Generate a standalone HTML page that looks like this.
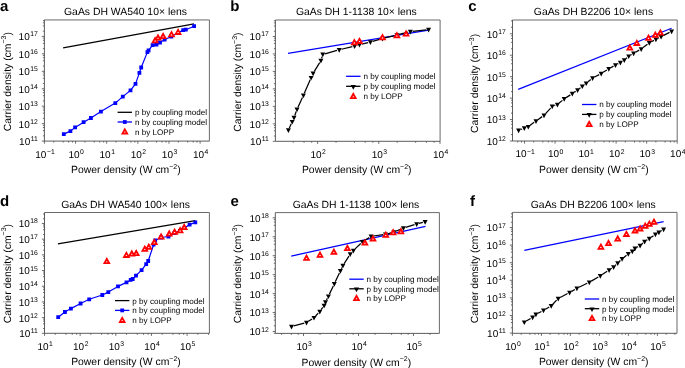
<!DOCTYPE html><html><head><meta charset="utf-8"><style>html,body{margin:0;padding:0;background:#fff;overflow:hidden}svg{display:block;filter:blur(0.3px)}text{font-family:"Liberation Sans",sans-serif;fill:#000;text-rendering:geometricPrecision}</style></head><body>
<svg width="685" height="368" viewBox="0 0 685 368">
<rect width="685" height="368" fill="#fff"/>
<path d="M44.4 19.95H209.4V141.1" fill="none" stroke="#5a5a5a" stroke-width="0.9"/>
<path d="M44.4 141.1v2.6M53.77 141.1v1.5M63.15 141.1v1.5M68.63 141.1v1.5M72.52 141.1v1.5M75.54 141.1v2.6M84.91 141.1v1.5M94.29 141.1v1.5M99.77 141.1v1.5M103.66 141.1v1.5M106.68 141.1v2.6M116.05 141.1v1.5M125.43 141.1v1.5M130.91 141.1v1.5M134.8 141.1v1.5M137.82 141.1v2.6M147.19 141.1v1.5M156.57 141.1v1.5M162.05 141.1v1.5M165.94 141.1v1.5M168.96 141.1v2.6M178.33 141.1v1.5M187.71 141.1v1.5M193.19 141.1v1.5M197.08 141.1v1.5M200.1 141.1v2.6M44.4 141.1h-2.6M44.4 135.85h-1.5M44.4 130.59h-1.5M44.4 127.52h-1.5M44.4 125.34h-1.5M44.4 123.65h-2.6M44.4 118.4h-1.5M44.4 113.14h-1.5M44.4 110.07h-1.5M44.4 107.89h-1.5M44.4 106.2h-2.6M44.4 100.95h-1.5M44.4 95.69h-1.5M44.4 92.62h-1.5M44.4 90.44h-1.5M44.4 88.75h-2.6M44.4 83.5h-1.5M44.4 78.24h-1.5M44.4 75.17h-1.5M44.4 72.99h-1.5M44.4 71.3h-2.6M44.4 66.05h-1.5M44.4 60.79h-1.5M44.4 57.72h-1.5M44.4 55.54h-1.5M44.4 53.85h-2.6M44.4 48.6h-1.5M44.4 43.34h-1.5M44.4 40.27h-1.5M44.4 38.09h-1.5M44.4 36.4h-2.6M44.4 31.15h-1.5M44.4 25.89h-1.5M44.4 22.82h-1.5M44.4 20.64h-1.5" stroke="#4a4a4a" stroke-width="0.8" fill="none"/>
<path d="M44.4 19.95V141.1H209.4" fill="none" stroke="#4a4a4a" stroke-width="0.9"/>
<text x="37.8" y="145" text-anchor="end" font-size="10.0">10<tspan font-size="6.8" dx="0.5" dy="-3.9">11</tspan></text>
<text x="37.8" y="127.55" text-anchor="end" font-size="10.0">10<tspan font-size="6.8" dx="0.5" dy="-3.9">12</tspan></text>
<text x="37.8" y="110.1" text-anchor="end" font-size="10.0">10<tspan font-size="6.8" dx="0.5" dy="-3.9">13</tspan></text>
<text x="37.8" y="92.65" text-anchor="end" font-size="10.0">10<tspan font-size="6.8" dx="0.5" dy="-3.9">14</tspan></text>
<text x="37.8" y="75.2" text-anchor="end" font-size="10.0">10<tspan font-size="6.8" dx="0.5" dy="-3.9">15</tspan></text>
<text x="37.8" y="57.75" text-anchor="end" font-size="10.0">10<tspan font-size="6.8" dx="0.5" dy="-3.9">16</tspan></text>
<text x="37.8" y="40.3" text-anchor="end" font-size="10.0">10<tspan font-size="6.8" dx="0.5" dy="-3.9">17</tspan></text>
<text x="45" y="157.5" text-anchor="middle" font-size="10.0">10<tspan font-size="6.8" dx="0.5" dy="-3.9">−1</tspan></text>
<text x="76.14" y="157.5" text-anchor="middle" font-size="10.0">10<tspan font-size="6.8" dx="0.5" dy="-3.9">0</tspan></text>
<text x="107.28" y="157.5" text-anchor="middle" font-size="10.0">10<tspan font-size="6.8" dx="0.5" dy="-3.9">1</tspan></text>
<text x="138.42" y="157.5" text-anchor="middle" font-size="10.0">10<tspan font-size="6.8" dx="0.5" dy="-3.9">2</tspan></text>
<text x="169.56" y="157.5" text-anchor="middle" font-size="10.0">10<tspan font-size="6.8" dx="0.5" dy="-3.9">3</tspan></text>
<text x="200.7" y="157.5" text-anchor="middle" font-size="10.0">10<tspan font-size="6.8" dx="0.5" dy="-3.9">4</tspan></text>
<text x="125.5" y="15.35" text-anchor="middle" font-size="10.4">GaAs DH WA540 10× lens</text>
<text x="125.9" y="173.2" text-anchor="middle" font-size="10.4">Power density (W cm<tspan font-size="7.0" dy="-4.2">−2</tspan><tspan dy="4.2">)</tspan></text>
<text transform="translate(10.5 81.7) rotate(-90)" x="0" y="0" text-anchor="middle" font-size="10.4">Carrier density (cm<tspan font-size="7.0" dy="-4.2">−3</tspan><tspan dy="4.2">)</tspan></text>
<text x="0.1" y="10.8" font-size="15" font-weight="bold">a</text>
<path d="M275.4 20H440.1V141.3" fill="none" stroke="#5a5a5a" stroke-width="0.9"/>
<path d="M293.25 141.3v1.5M304.02 141.3v1.5M311.67 141.3v1.5M317.6 141.3v2.6M336.02 141.3v1.5M354.45 141.3v1.5M365.22 141.3v1.5M372.87 141.3v1.5M378.8 141.3v2.6M397.22 141.3v1.5M415.65 141.3v1.5M426.42 141.3v1.5M434.07 141.3v1.5M440 141.3v2.6M275.4 141.3h-2.6M275.4 136.04h-1.5M275.4 130.78h-1.5M275.4 127.71h-1.5M275.4 125.52h-1.5M275.4 123.83h-2.6M275.4 118.57h-1.5M275.4 113.31h-1.5M275.4 110.24h-1.5M275.4 108.05h-1.5M275.4 106.36h-2.6M275.4 101.1h-1.5M275.4 95.84h-1.5M275.4 92.77h-1.5M275.4 90.58h-1.5M275.4 88.89h-2.6M275.4 83.63h-1.5M275.4 78.37h-1.5M275.4 75.3h-1.5M275.4 73.11h-1.5M275.4 71.42h-2.6M275.4 66.16h-1.5M275.4 60.9h-1.5M275.4 57.83h-1.5M275.4 55.64h-1.5M275.4 53.95h-2.6M275.4 48.69h-1.5M275.4 43.43h-1.5M275.4 40.36h-1.5M275.4 38.17h-1.5M275.4 36.48h-2.6M275.4 31.22h-1.5M275.4 25.96h-1.5M275.4 22.89h-1.5M275.4 20.7h-1.5" stroke="#4a4a4a" stroke-width="0.8" fill="none"/>
<path d="M275.4 20V141.3H440.1" fill="none" stroke="#4a4a4a" stroke-width="0.9"/>
<text x="268.8" y="145.2" text-anchor="end" font-size="10.0">10<tspan font-size="6.8" dx="0.5" dy="-3.9">11</tspan></text>
<text x="268.8" y="127.73" text-anchor="end" font-size="10.0">10<tspan font-size="6.8" dx="0.5" dy="-3.9">12</tspan></text>
<text x="268.8" y="110.26" text-anchor="end" font-size="10.0">10<tspan font-size="6.8" dx="0.5" dy="-3.9">13</tspan></text>
<text x="268.8" y="92.79" text-anchor="end" font-size="10.0">10<tspan font-size="6.8" dx="0.5" dy="-3.9">14</tspan></text>
<text x="268.8" y="75.32" text-anchor="end" font-size="10.0">10<tspan font-size="6.8" dx="0.5" dy="-3.9">15</tspan></text>
<text x="268.8" y="57.85" text-anchor="end" font-size="10.0">10<tspan font-size="6.8" dx="0.5" dy="-3.9">16</tspan></text>
<text x="268.8" y="40.38" text-anchor="end" font-size="10.0">10<tspan font-size="6.8" dx="0.5" dy="-3.9">17</tspan></text>
<text x="318.2" y="157.7" text-anchor="middle" font-size="10.0">10<tspan font-size="6.8" dx="0.5" dy="-3.9">2</tspan></text>
<text x="379.4" y="157.7" text-anchor="middle" font-size="10.0">10<tspan font-size="6.8" dx="0.5" dy="-3.9">3</tspan></text>
<text x="440.6" y="157.7" text-anchor="middle" font-size="10.0">10<tspan font-size="6.8" dx="0.5" dy="-3.9">4</tspan></text>
<text x="356.35" y="15.4" text-anchor="middle" font-size="10.4">GaAs DH 1-1138 10× lens</text>
<text x="356.75" y="173.4" text-anchor="middle" font-size="10.4">Power density (W cm<tspan font-size="7.0" dy="-4.2">−2</tspan><tspan dy="4.2">)</tspan></text>
<text transform="translate(241.2 82.1) rotate(-90)" x="0" y="0" text-anchor="middle" font-size="10.4">Carrier density (cm<tspan font-size="7.0" dy="-4.2">−3</tspan><tspan dy="4.2">)</tspan></text>
<text x="230.2" y="10.8" font-size="15" font-weight="bold">b</text>
<path d="M512.5 20H677.2V141" fill="none" stroke="#5a5a5a" stroke-width="0.9"/>
<path d="M517.72 141v1.5M521.54 141v1.5M524.5 141v2.6M533.69 141v1.5M542.89 141v1.5M548.26 141v1.5M552.08 141v1.5M555.04 141v2.6M564.23 141v1.5M573.43 141v1.5M578.8 141v1.5M582.62 141v1.5M585.58 141v2.6M594.77 141v1.5M603.97 141v1.5M609.34 141v1.5M613.16 141v1.5M616.12 141v2.6M625.31 141v1.5M634.51 141v1.5M639.88 141v1.5M643.7 141v1.5M646.66 141v2.6M655.85 141v1.5M665.05 141v1.5M670.42 141v1.5M674.24 141v1.5M677.2 141v2.6M512.5 141h-2.6M512.5 134.54h-1.5M512.5 128.09h-1.5M512.5 124.31h-1.5M512.5 121.63h-1.5M512.5 119.55h-2.6M512.5 113.09h-1.5M512.5 106.64h-1.5M512.5 102.86h-1.5M512.5 100.18h-1.5M512.5 98.1h-2.6M512.5 91.64h-1.5M512.5 85.19h-1.5M512.5 81.41h-1.5M512.5 78.73h-1.5M512.5 76.65h-2.6M512.5 70.19h-1.5M512.5 63.74h-1.5M512.5 59.96h-1.5M512.5 57.28h-1.5M512.5 55.2h-2.6M512.5 48.74h-1.5M512.5 42.29h-1.5M512.5 38.51h-1.5M512.5 35.83h-1.5M512.5 33.75h-2.6M512.5 27.29h-1.5M512.5 20.84h-1.5" stroke="#4a4a4a" stroke-width="0.8" fill="none"/>
<path d="M512.5 20V141H677.2" fill="none" stroke="#4a4a4a" stroke-width="0.9"/>
<text x="505.9" y="144.9" text-anchor="end" font-size="10.0">10<tspan font-size="6.8" dx="0.5" dy="-3.9">12</tspan></text>
<text x="505.9" y="123.45" text-anchor="end" font-size="10.0">10<tspan font-size="6.8" dx="0.5" dy="-3.9">13</tspan></text>
<text x="505.9" y="102" text-anchor="end" font-size="10.0">10<tspan font-size="6.8" dx="0.5" dy="-3.9">14</tspan></text>
<text x="505.9" y="80.55" text-anchor="end" font-size="10.0">10<tspan font-size="6.8" dx="0.5" dy="-3.9">15</tspan></text>
<text x="505.9" y="59.1" text-anchor="end" font-size="10.0">10<tspan font-size="6.8" dx="0.5" dy="-3.9">16</tspan></text>
<text x="505.9" y="37.65" text-anchor="end" font-size="10.0">10<tspan font-size="6.8" dx="0.5" dy="-3.9">17</tspan></text>
<text x="525.1" y="157.4" text-anchor="middle" font-size="10.0">10<tspan font-size="6.8" dx="0.5" dy="-3.9">−1</tspan></text>
<text x="555.64" y="157.4" text-anchor="middle" font-size="10.0">10<tspan font-size="6.8" dx="0.5" dy="-3.9">0</tspan></text>
<text x="586.18" y="157.4" text-anchor="middle" font-size="10.0">10<tspan font-size="6.8" dx="0.5" dy="-3.9">1</tspan></text>
<text x="616.72" y="157.4" text-anchor="middle" font-size="10.0">10<tspan font-size="6.8" dx="0.5" dy="-3.9">2</tspan></text>
<text x="647.26" y="157.4" text-anchor="middle" font-size="10.0">10<tspan font-size="6.8" dx="0.5" dy="-3.9">3</tspan></text>
<text x="677.8" y="157.4" text-anchor="middle" font-size="10.0">10<tspan font-size="6.8" dx="0.5" dy="-3.9">4</tspan></text>
<text x="593.45" y="15.4" text-anchor="middle" font-size="10.4">GaAs DH B2206 10× lens</text>
<text x="593.85" y="173.1" text-anchor="middle" font-size="10.4">Power density (W cm<tspan font-size="7.0" dy="-4.2">−2</tspan><tspan dy="4.2">)</tspan></text>
<text transform="translate(477.7 83.4) rotate(-90)" x="0" y="0" text-anchor="middle" font-size="10.4">Carrier density (cm<tspan font-size="7.0" dy="-4.2">−3</tspan><tspan dy="4.2">)</tspan></text>
<text x="468.3" y="10.8" font-size="15" font-weight="bold">c</text>
<path d="M44.5 212.5H209.4V333.3" fill="none" stroke="#5a5a5a" stroke-width="0.9"/>
<path d="M44.5 333.3v2.6M55.23 333.3v1.5M65.96 333.3v1.5M72.24 333.3v1.5M76.7 333.3v1.5M80.15 333.3v2.6M90.88 333.3v1.5M101.61 333.3v1.5M107.89 333.3v1.5M112.35 333.3v1.5M115.8 333.3v2.6M126.53 333.3v1.5M137.26 333.3v1.5M143.54 333.3v1.5M148 333.3v1.5M151.45 333.3v2.6M162.18 333.3v1.5M172.91 333.3v1.5M179.19 333.3v1.5M183.65 333.3v1.5M187.1 333.3v2.6M197.83 333.3v1.5M208.56 333.3v1.5M44.5 333.3h-2.6M44.5 328.58h-1.5M44.5 323.85h-1.5M44.5 321.09h-1.5M44.5 319.13h-1.5M44.5 317.61h-2.6M44.5 312.89h-1.5M44.5 308.16h-1.5M44.5 305.4h-1.5M44.5 303.44h-1.5M44.5 301.92h-2.6M44.5 297.2h-1.5M44.5 292.47h-1.5M44.5 289.71h-1.5M44.5 287.75h-1.5M44.5 286.23h-2.6M44.5 281.51h-1.5M44.5 276.78h-1.5M44.5 274.02h-1.5M44.5 272.06h-1.5M44.5 270.54h-2.6M44.5 265.82h-1.5M44.5 261.09h-1.5M44.5 258.33h-1.5M44.5 256.37h-1.5M44.5 254.85h-2.6M44.5 250.13h-1.5M44.5 245.4h-1.5M44.5 242.64h-1.5M44.5 240.68h-1.5M44.5 239.16h-2.6M44.5 234.44h-1.5M44.5 229.71h-1.5M44.5 226.95h-1.5M44.5 224.99h-1.5M44.5 223.47h-2.6M44.5 218.75h-1.5M44.5 214.02h-1.5" stroke="#4a4a4a" stroke-width="0.8" fill="none"/>
<path d="M44.5 212.5V333.3H209.4" fill="none" stroke="#4a4a4a" stroke-width="0.9"/>
<text x="37.9" y="337.2" text-anchor="end" font-size="10.0">10<tspan font-size="6.8" dx="0.5" dy="-3.9">11</tspan></text>
<text x="37.9" y="321.51" text-anchor="end" font-size="10.0">10<tspan font-size="6.8" dx="0.5" dy="-3.9">12</tspan></text>
<text x="37.9" y="305.82" text-anchor="end" font-size="10.0">10<tspan font-size="6.8" dx="0.5" dy="-3.9">13</tspan></text>
<text x="37.9" y="290.13" text-anchor="end" font-size="10.0">10<tspan font-size="6.8" dx="0.5" dy="-3.9">14</tspan></text>
<text x="37.9" y="274.44" text-anchor="end" font-size="10.0">10<tspan font-size="6.8" dx="0.5" dy="-3.9">15</tspan></text>
<text x="37.9" y="258.75" text-anchor="end" font-size="10.0">10<tspan font-size="6.8" dx="0.5" dy="-3.9">16</tspan></text>
<text x="37.9" y="243.06" text-anchor="end" font-size="10.0">10<tspan font-size="6.8" dx="0.5" dy="-3.9">17</tspan></text>
<text x="37.9" y="227.37" text-anchor="end" font-size="10.0">10<tspan font-size="6.8" dx="0.5" dy="-3.9">18</tspan></text>
<text x="45.1" y="349.7" text-anchor="middle" font-size="10.0">10<tspan font-size="6.8" dx="0.5" dy="-3.9">1</tspan></text>
<text x="80.75" y="349.7" text-anchor="middle" font-size="10.0">10<tspan font-size="6.8" dx="0.5" dy="-3.9">2</tspan></text>
<text x="116.4" y="349.7" text-anchor="middle" font-size="10.0">10<tspan font-size="6.8" dx="0.5" dy="-3.9">3</tspan></text>
<text x="152.05" y="349.7" text-anchor="middle" font-size="10.0">10<tspan font-size="6.8" dx="0.5" dy="-3.9">4</tspan></text>
<text x="187.7" y="349.7" text-anchor="middle" font-size="10.0">10<tspan font-size="6.8" dx="0.5" dy="-3.9">5</tspan></text>
<text x="125.55" y="207.9" text-anchor="middle" font-size="10.4">GaAs DH WA540 100× lens</text>
<text x="125.95" y="365.4" text-anchor="middle" font-size="10.4">Power density (W cm<tspan font-size="7.0" dy="-4.2">−2</tspan><tspan dy="4.2">)</tspan></text>
<text transform="translate(10.5 273.55) rotate(-90)" x="0" y="0" text-anchor="middle" font-size="10.4">Carrier density (cm<tspan font-size="7.0" dy="-4.2">−3</tspan><tspan dy="4.2">)</tspan></text>
<text x="0" y="205.8" font-size="15" font-weight="bold">d</text>
<path d="M275.3 212.6H439.4V333.4" fill="none" stroke="#5a5a5a" stroke-width="0.9"/>
<path d="M281.61 333.4v1.5M291.3 333.4v1.5M298.17 333.4v1.5M303.5 333.4v2.6M320.06 333.4v1.5M336.61 333.4v1.5M346.3 333.4v1.5M353.17 333.4v1.5M358.5 333.4v2.6M375.06 333.4v1.5M391.61 333.4v1.5M401.3 333.4v1.5M408.17 333.4v1.5M413.5 333.4v2.6M430.06 333.4v1.5M275.3 333.34h-1.5M275.3 331.5h-2.6M275.3 325.8h-1.5M275.3 320.09h-1.5M275.3 316.75h-1.5M275.3 314.39h-1.5M275.3 312.55h-2.6M275.3 306.85h-1.5M275.3 301.14h-1.5M275.3 297.8h-1.5M275.3 295.44h-1.5M275.3 293.6h-2.6M275.3 287.9h-1.5M275.3 282.19h-1.5M275.3 278.85h-1.5M275.3 276.49h-1.5M275.3 274.65h-2.6M275.3 268.95h-1.5M275.3 263.24h-1.5M275.3 259.9h-1.5M275.3 257.54h-1.5M275.3 255.7h-2.6M275.3 250h-1.5M275.3 244.29h-1.5M275.3 240.95h-1.5M275.3 238.59h-1.5M275.3 236.75h-2.6M275.3 231.05h-1.5M275.3 225.34h-1.5M275.3 222h-1.5M275.3 219.64h-1.5M275.3 217.8h-2.6" stroke="#4a4a4a" stroke-width="0.8" fill="none"/>
<path d="M275.3 212.6V333.4H439.4" fill="none" stroke="#4a4a4a" stroke-width="0.9"/>
<text x="268.7" y="335.4" text-anchor="end" font-size="10.0">10<tspan font-size="6.8" dx="0.5" dy="-3.9">12</tspan></text>
<text x="268.7" y="316.45" text-anchor="end" font-size="10.0">10<tspan font-size="6.8" dx="0.5" dy="-3.9">13</tspan></text>
<text x="268.7" y="297.5" text-anchor="end" font-size="10.0">10<tspan font-size="6.8" dx="0.5" dy="-3.9">14</tspan></text>
<text x="268.7" y="278.55" text-anchor="end" font-size="10.0">10<tspan font-size="6.8" dx="0.5" dy="-3.9">15</tspan></text>
<text x="268.7" y="259.6" text-anchor="end" font-size="10.0">10<tspan font-size="6.8" dx="0.5" dy="-3.9">16</tspan></text>
<text x="268.7" y="240.65" text-anchor="end" font-size="10.0">10<tspan font-size="6.8" dx="0.5" dy="-3.9">17</tspan></text>
<text x="268.7" y="221.7" text-anchor="end" font-size="10.0">10<tspan font-size="6.8" dx="0.5" dy="-3.9">18</tspan></text>
<text x="304.1" y="349.8" text-anchor="middle" font-size="10.0">10<tspan font-size="6.8" dx="0.5" dy="-3.9">3</tspan></text>
<text x="359.1" y="349.8" text-anchor="middle" font-size="10.0">10<tspan font-size="6.8" dx="0.5" dy="-3.9">4</tspan></text>
<text x="414.1" y="349.8" text-anchor="middle" font-size="10.0">10<tspan font-size="6.8" dx="0.5" dy="-3.9">5</tspan></text>
<text x="355.95" y="208" text-anchor="middle" font-size="10.4">GaAs DH 1-1138 100× lens</text>
<text x="356.35" y="365.5" text-anchor="middle" font-size="10.4">Power density (W cm<tspan font-size="7.0" dy="-4.2">−2</tspan><tspan dy="4.2">)</tspan></text>
<text transform="translate(241.2 273.75) rotate(-90)" x="0" y="0" text-anchor="middle" font-size="10.4">Carrier density (cm<tspan font-size="7.0" dy="-4.2">−3</tspan><tspan dy="4.2">)</tspan></text>
<text x="230.6" y="205.8" font-size="15" font-weight="bold">e</text>
<path d="M512.4 212.4H677V333.3" fill="none" stroke="#5a5a5a" stroke-width="0.9"/>
<path d="M512.4 333.3v2.6M521.13 333.3v1.5M529.86 333.3v1.5M534.97 333.3v1.5M538.59 333.3v1.5M541.4 333.3v2.6M550.13 333.3v1.5M558.86 333.3v1.5M563.97 333.3v1.5M567.59 333.3v1.5M570.4 333.3v2.6M579.13 333.3v1.5M587.86 333.3v1.5M592.97 333.3v1.5M596.59 333.3v1.5M599.4 333.3v2.6M608.13 333.3v1.5M616.86 333.3v1.5M621.97 333.3v1.5M625.59 333.3v1.5M628.4 333.3v2.6M637.13 333.3v1.5M645.86 333.3v1.5M650.97 333.3v1.5M654.59 333.3v1.5M657.4 333.3v2.6M666.13 333.3v1.5M674.86 333.3v1.5M512.4 333.1h-2.6M512.4 327.8h-1.5M512.4 322.5h-1.5M512.4 319.4h-1.5M512.4 317.21h-1.5M512.4 315.5h-2.6M512.4 310.2h-1.5M512.4 304.9h-1.5M512.4 301.8h-1.5M512.4 299.61h-1.5M512.4 297.9h-2.6M512.4 292.6h-1.5M512.4 287.3h-1.5M512.4 284.2h-1.5M512.4 282.01h-1.5M512.4 280.3h-2.6M512.4 275h-1.5M512.4 269.7h-1.5M512.4 266.6h-1.5M512.4 264.41h-1.5M512.4 262.7h-2.6M512.4 257.4h-1.5M512.4 252.1h-1.5M512.4 249h-1.5M512.4 246.81h-1.5M512.4 245.1h-2.6M512.4 239.8h-1.5M512.4 234.5h-1.5M512.4 231.4h-1.5M512.4 229.21h-1.5M512.4 227.5h-2.6M512.4 222.2h-1.5M512.4 216.9h-1.5M512.4 213.8h-1.5" stroke="#4a4a4a" stroke-width="0.8" fill="none"/>
<path d="M512.4 212.4V333.3H677" fill="none" stroke="#4a4a4a" stroke-width="0.9"/>
<text x="505.8" y="337" text-anchor="end" font-size="10.0">10<tspan font-size="6.8" dx="0.5" dy="-3.9">11</tspan></text>
<text x="505.8" y="319.4" text-anchor="end" font-size="10.0">10<tspan font-size="6.8" dx="0.5" dy="-3.9">12</tspan></text>
<text x="505.8" y="301.8" text-anchor="end" font-size="10.0">10<tspan font-size="6.8" dx="0.5" dy="-3.9">13</tspan></text>
<text x="505.8" y="284.2" text-anchor="end" font-size="10.0">10<tspan font-size="6.8" dx="0.5" dy="-3.9">14</tspan></text>
<text x="505.8" y="266.6" text-anchor="end" font-size="10.0">10<tspan font-size="6.8" dx="0.5" dy="-3.9">15</tspan></text>
<text x="505.8" y="249" text-anchor="end" font-size="10.0">10<tspan font-size="6.8" dx="0.5" dy="-3.9">16</tspan></text>
<text x="505.8" y="231.4" text-anchor="end" font-size="10.0">10<tspan font-size="6.8" dx="0.5" dy="-3.9">17</tspan></text>
<text x="513" y="349.7" text-anchor="middle" font-size="10.0">10<tspan font-size="6.8" dx="0.5" dy="-3.9">0</tspan></text>
<text x="542" y="349.7" text-anchor="middle" font-size="10.0">10<tspan font-size="6.8" dx="0.5" dy="-3.9">1</tspan></text>
<text x="571" y="349.7" text-anchor="middle" font-size="10.0">10<tspan font-size="6.8" dx="0.5" dy="-3.9">2</tspan></text>
<text x="600" y="349.7" text-anchor="middle" font-size="10.0">10<tspan font-size="6.8" dx="0.5" dy="-3.9">3</tspan></text>
<text x="629" y="349.7" text-anchor="middle" font-size="10.0">10<tspan font-size="6.8" dx="0.5" dy="-3.9">4</tspan></text>
<text x="658" y="349.7" text-anchor="middle" font-size="10.0">10<tspan font-size="6.8" dx="0.5" dy="-3.9">5</tspan></text>
<text x="593.3" y="207.8" text-anchor="middle" font-size="10.4">GaAs DH B2206 100× lens</text>
<text x="593.7" y="365.4" text-anchor="middle" font-size="10.4">Power density (W cm<tspan font-size="7.0" dy="-4.2">−2</tspan><tspan dy="4.2">)</tspan></text>
<text transform="translate(477.7 273.75) rotate(-90)" x="0" y="0" text-anchor="middle" font-size="10.4">Carrier density (cm<tspan font-size="7.0" dy="-4.2">−3</tspan><tspan dy="4.2">)</tspan></text>
<text x="469.9" y="205.8" font-size="15" font-weight="bold">f</text>
<polyline points="63.1,47.8 194,23.8" fill="none" stroke="#000" stroke-width="1.2" stroke-linejoin="round"/>
<polyline points="63.8,134.1 70.4,131.1 75.1,127.4 83.6,122.2 90.9,118 100.9,111.6 115.3,103.1 122.8,96.6 130.5,90.4 135.5,83.9 139.4,72.9 141.2,67.5 147.4,52.1 148.6,50.3 152.6,45.2 156.5,44.6 160,42.5 164.6,39.7 171.3,36.5 183.2,30.1 185.8,29.7 194.1,26.2" fill="none" stroke="#0000ff" stroke-width="1.2" stroke-linejoin="round"/>
<path d="M61.9 132.2h3.8v3.8h-3.8zM68.5 129.2h3.8v3.8h-3.8zM73.2 125.5h3.8v3.8h-3.8zM81.7 120.3h3.8v3.8h-3.8zM89 116.1h3.8v3.8h-3.8zM99 109.7h3.8v3.8h-3.8zM113.4 101.2h3.8v3.8h-3.8zM120.9 94.7h3.8v3.8h-3.8zM128.6 88.5h3.8v3.8h-3.8zM133.6 82h3.8v3.8h-3.8zM137.5 71h3.8v3.8h-3.8zM139.3 65.6h3.8v3.8h-3.8zM145.5 50.2h3.8v3.8h-3.8zM146.7 48.4h3.8v3.8h-3.8zM150.7 43.3h3.8v3.8h-3.8zM154.6 42.7h3.8v3.8h-3.8zM158.1 40.6h3.8v3.8h-3.8zM162.7 37.8h3.8v3.8h-3.8zM169.4 34.6h3.8v3.8h-3.8zM181.3 28.2h3.8v3.8h-3.8zM183.9 27.8h3.8v3.8h-3.8zM192.2 24.3h3.8v3.8h-3.8z" fill="#0000ff"/>
<path d="M155.1 36.2L159 43.2H151.2zM158 33.5L161.9 40.5H154.1zM163.1 32L167 39H159.2zM171.5 30.2L175.4 37.2H167.6zM178.1 27.9L182 34.9H174.2z" fill="#ff0000"/>
<path d="M155.1 40.1L156.05 41.4H154.15zM158 37.4L158.95 38.7H157.05zM163.1 35.9L164.05 37.2H162.15zM171.5 34.1L172.45 35.4H170.55zM178.1 31.8L179.05 33.1H177.15z" fill="#fff"/>
<path d="M117.6 112.3h14.4" stroke="#000" stroke-width="1.3"/>
<text x="134.9" y="115.2" font-size="8.15">p by coupling model</text>
<path d="M117.6 122h14.4" stroke="#0000ff" stroke-width="1.3"/>
<path d="M122.9 120.1h3.8v3.8h-3.8z" fill="#0000ff"/>
<text x="134.9" y="124.9" font-size="8.15">n by coupling model</text>
<path d="M124.8 127.4L128.7 134.4H120.9z" fill="#ff0000"/>
<path d="M124.8 131.3L125.75 132.6H123.85z" fill="#fff"/>
<text x="134.9" y="134.6" font-size="8.15">n by LOPP</text>
<polyline points="288,53.4 428.6,30.2" fill="none" stroke="#0000ff" stroke-width="1.2" stroke-linejoin="round"/>
<path d="M289.35 128L291.25 123.8M294.79 115.44L296.21 111.56M297.96 107.31L302.44 97.49M304.32 93.29L310.18 79.81M314.3 71.44L319.7 62.56M321.57 58.4L322.13 56.6M325.01 53.78L336.99 50.42M341.43 49.25L352.37 46.55M356.81 45.37L357.29 45.23M361.74 44.09L368.16 42.61M372.6 41.44L380.3 39.16M384.73 37.96L394.67 35.54M399.13 34.44L408.17 32.16M412.68 31.34L426.32 29.76" fill="none" stroke="#000" stroke-width="1.25"/>
<path d="M285.9 128.3h5L288.4 133zM289.7 119.9h5L292.2 124.6zM291.5 115.8h5L294 120.5zM294.5 107.6h5L297 112.3zM300.9 93.6h5L303.4 98.3zM308.6 75.9h5L311.1 80.6zM310.6 71.6h5L313.1 76.3zM318.4 58.8h5L320.9 63.5zM320.3 52.6h5L322.8 57.3zM336.7 48h5L339.2 52.7zM352.1 44.2h5L354.6 48.9zM357 42.8h5L359.5 47.5zM367.9 40.3h5L370.4 45zM380 36.7h5L382.5 41.4zM394.4 33.2h5L396.9 37.9zM407.9 29.8h5L410.4 34.5zM426.1 27.7h5L428.6 32.4z" fill="#000"/>
<path d="M354.3 38.2L358.2 45.2H350.4zM359.5 36.9L363.4 43.9H355.6zM382.5 33.2L386.4 40.2H378.6zM396.9 31.2L400.8 38.2H393zM406.1 29.6L410 36.6H402.2z" fill="#ff0000"/>
<path d="M354.3 42.1L355.25 43.4H353.35zM359.5 40.8L360.45 42.1H358.55zM382.5 37.1L383.45 38.4H381.55zM396.9 35.1L397.85 36.4H395.95zM406.1 33.5L407.05 34.8H405.15z" fill="#fff"/>
<path d="M346.1 76.3h14.4" stroke="#0000ff" stroke-width="1.3"/>
<text x="363.4" y="79.2" font-size="8.15">n by coupling model</text>
<path d="M346.1 86.3h14.4" stroke="#000" stroke-width="1.3"/>
<path d="M350.7 85h5.2L353.3 89.7z" fill="#000"/>
<text x="363.4" y="89.2" font-size="8.15">p by coupling model</text>
<path d="M353.3 92L357.2 99H349.4z" fill="#ff0000"/>
<path d="M353.3 95.9L354.25 97.2H352.35z" fill="#fff"/>
<text x="363.4" y="99.2" font-size="8.15">n by LOPP</text>
<polyline points="518.2,89.4 671.6,28.3" fill="none" stroke="#0000ff" stroke-width="1.2" stroke-linejoin="round"/>
<path d="M520.73 129.54L522.17 128.96M530.15 125.33L534.15 122.37M537.87 119.67L542.13 116.63M545.56 113.61L550.64 108.09M554.36 105.61L555.24 105.29M559.18 103.04L562.42 100.36M566.12 97.64L570.38 94.86M574.22 92.33L575.68 91.37M579.37 88.63L580.53 87.67M584.12 84.8L584.38 84.6M588 81.77L590.8 79.53M594.63 77.02L599.17 74.58M603.17 72.31L606.83 70.09M610.79 67.74L613.51 66.16M617.57 63.99L618.33 63.61M626.02 58.57L626.98 57.73M630.68 55.03L631.62 54.47M635.6 52.17L639.2 50.13M643.04 47.62L647.46 44.28M651.32 41.8L653.88 40.4M657.96 38.27L659.04 37.73M663.15 35.65L669.55 32.35" fill="none" stroke="#000" stroke-width="1.25"/>
<path d="M516.1 128.6h5L518.6 133.3zM521.8 126.3h5L524.3 131zM525.8 124.9h5L528.3 129.6zM533.5 119.2h5L536 123.9zM541.5 113.5h5L544 118.2zM549.7 104.6h5L552.2 109.3zM554.9 102.7h5L557.4 107.4zM561.7 97.1h5L564.2 101.8zM569.8 91.8h5L572.3 96.5zM575.1 88.3h5L577.6 93zM579.8 84.4h5L582.3 89.1zM583.7 81.4h5L586.2 86.1zM590.1 76.3h5L592.6 81zM598.7 71.7h5L601.2 76.4zM606.3 67.1h5L608.8 71.8zM613 63.2h5L615.5 67.9zM617.9 60.8h5L620.4 65.5zM621.8 58.3h5L624.3 63zM626.2 54.4h5L628.7 59.1zM631.1 51.5h5L633.6 56.2zM638.7 47.2h5L641.2 51.9zM646.8 41.1h5L649.3 45.8zM653.4 37.5h5L655.9 42.2zM658.6 34.9h5L661.1 39.6zM669.1 29.5h5L671.6 34.2z" fill="#000"/>
<path d="M629.8 43.5L633.7 50.5H625.9zM636.8 38.9L640.7 45.9H632.9zM648.5 33.7L652.4 40.7H644.6zM655.3 30.8L659.2 37.8H651.4zM660.4 28.6L664.3 35.6H656.5z" fill="#ff0000"/>
<path d="M629.8 47.4L630.75 48.7H628.85zM636.8 42.8L637.75 44.1H635.85zM648.5 37.6L649.45 38.9H647.55zM655.3 34.7L656.25 36H654.35zM660.4 32.5L661.35 33.8H659.45z" fill="#fff"/>
<path d="M582 104.5h14.4" stroke="#0000ff" stroke-width="1.3"/>
<text x="599.3" y="107.4" font-size="8.15">n by coupling model</text>
<path d="M582 114.4h14.4" stroke="#000" stroke-width="1.3"/>
<path d="M586.6 113.1h5.2L589.2 117.8z" fill="#000"/>
<text x="599.3" y="117.3" font-size="8.15">p by coupling model</text>
<path d="M589.2 120L593.1 127H585.3z" fill="#ff0000"/>
<path d="M589.2 123.9L590.15 125.2H588.25z" fill="#fff"/>
<text x="599.3" y="127.2" font-size="8.15">n by LOPP</text>
<polyline points="57.9,243.8 195.3,220.7" fill="none" stroke="#000" stroke-width="1.2" stroke-linejoin="round"/>
<polyline points="58.2,317.2 64.9,312 70.9,308.6 80.6,303.5 89.2,299.3 102.3,295 108.3,292.1 118,286.4 126.5,282.4 130.7,279.9 132.7,279 136,275.7 141.6,270.1 146.2,264.1 148.2,261 153.6,244.7 155.2,240.5 161,237.5 168.5,236.5 174.5,233 180,230.8 184.5,228 189.6,224.6 195.3,222.4" fill="none" stroke="#0000ff" stroke-width="1.2" stroke-linejoin="round"/>
<path d="M56.3 315.3h3.8v3.8h-3.8zM63 310.1h3.8v3.8h-3.8zM69 306.7h3.8v3.8h-3.8zM78.7 301.6h3.8v3.8h-3.8zM87.3 297.4h3.8v3.8h-3.8zM100.4 293.1h3.8v3.8h-3.8zM106.4 290.2h3.8v3.8h-3.8zM116.1 284.5h3.8v3.8h-3.8zM124.6 280.5h3.8v3.8h-3.8zM128.8 278h3.8v3.8h-3.8zM130.8 277.1h3.8v3.8h-3.8zM134.1 273.8h3.8v3.8h-3.8zM139.7 268.2h3.8v3.8h-3.8zM144.3 262.2h3.8v3.8h-3.8zM146.3 259.1h3.8v3.8h-3.8zM151.7 242.8h3.8v3.8h-3.8zM153.3 238.6h3.8v3.8h-3.8zM159.1 235.6h3.8v3.8h-3.8zM166.6 234.6h3.8v3.8h-3.8zM172.6 231.1h3.8v3.8h-3.8zM178.1 228.9h3.8v3.8h-3.8zM182.6 226.1h3.8v3.8h-3.8zM187.7 222.7h3.8v3.8h-3.8zM193.4 220.5h3.8v3.8h-3.8z" fill="#0000ff"/>
<path d="M106.8 257L110.7 264H102.9zM126.4 250.9L130.3 257.9H122.5zM131.8 249.6L135.7 256.6H127.9zM136.2 249L140.1 256H132.3zM144.8 244.8L148.7 251.8H140.9zM148.8 242.8L152.7 249.8H144.9zM154.3 238L158.2 245H150.4zM161.1 232.5L165 239.5H157.2zM169.2 229.5L173.1 236.5H165.3zM174.6 227.8L178.5 234.8H170.7zM180.1 226.2L184 233.2H176.2zM184.2 223L188.1 230H180.3z" fill="#ff0000"/>
<path d="M106.8 260.9L107.75 262.2H105.85zM126.4 254.8L127.35 256.1H125.45zM131.8 253.5L132.75 254.8H130.85zM136.2 252.9L137.15 254.2H135.25zM144.8 248.7L145.75 250H143.85zM148.8 246.7L149.75 248H147.85zM154.3 241.9L155.25 243.2H153.35zM161.1 236.4L162.05 237.7H160.15zM169.2 233.4L170.15 234.7H168.25zM174.6 231.7L175.55 233H173.65zM180.1 230.1L181.05 231.4H179.15zM184.2 226.9L185.15 228.2H183.25z" fill="#fff"/>
<path d="M115 300.6h14.4" stroke="#000" stroke-width="1.3"/>
<text x="132.3" y="303.5" font-size="8.15">p by coupling model</text>
<path d="M115 310.4h14.4" stroke="#0000ff" stroke-width="1.3"/>
<path d="M120.3 308.5h3.8v3.8h-3.8z" fill="#0000ff"/>
<text x="132.3" y="313.3" font-size="8.15">n by coupling model</text>
<path d="M122.2 315.9L126.1 322.9H118.3z" fill="#ff0000"/>
<path d="M122.2 319.8L123.15 321.1H121.25z" fill="#fff"/>
<text x="132.3" y="323.1" font-size="8.15">n by LOPP</text>
<polyline points="291.2,256.2 425.5,226.3" fill="none" stroke="#0000ff" stroke-width="1.2" stroke-linejoin="round"/>
<path d="M293.73 325.92L304.27 323.18M308.43 321.34L312.07 318.96M315.57 316.02L318.23 313.18M321.15 309.64L322.75 307.46M326.51 300.04L327.39 298.26M329.39 294.13L333.31 285.97M335.28 281.82L339.42 272.98M341.37 268.81L341.93 267.59M344.14 263.56L348.96 256.04M355.06 248.91L360.74 243.49M364.33 240.66L369.17 237.54M373.38 236L383.22 234.7M387.71 233.78L391.79 232.62M396.12 231.12L401.28 228.98M405.6 227.42L414.5 224.68M418.93 223.44L422.87 222.46" fill="none" stroke="#000" stroke-width="1.25"/>
<path d="M289 324.7h5L291.5 329.4zM304 320.8h5L306.5 325.5zM311.5 315.9h5L314 320.6zM317.3 309.7h5L319.8 314.4zM321.6 303.8h5L324.1 308.5zM323 300.3h5L325.5 305zM325.9 294.4h5L328.4 299.1zM331.8 282.1h5L334.3 286.8zM337.9 269.1h5L340.4 273.8zM340.4 263.7h5L342.9 268.4zM347.7 252.3h5L350.2 257zM350.9 248.7h5L353.4 253.4zM359.9 240.1h5L362.4 244.8zM368.6 234.5h5L371.1 239.2zM383 232.6h5L385.5 237.3zM391.5 230.2h5L394 234.9zM400.9 226.3h5L403.4 231zM414.2 222.2h5L416.7 226.9zM422.6 220.1h5L425.1 224.8z" fill="#000"/>
<path d="M306.5 253.8L310.4 260.8H302.6zM320 250.7L323.9 257.7H316.1zM333.9 247.8L337.8 254.8H330zM347.4 244L351.3 251H343.5zM364.9 238.5L368.8 245.5H361zM373 234.4L376.9 241.4H369.1zM385.8 230.8L389.7 237.8H381.9zM393.1 228.3L397 235.3H389.2zM400.9 227.3L404.8 234.3H397z" fill="#ff0000"/>
<path d="M306.5 257.7L307.45 259H305.55zM320 254.6L320.95 255.9H319.05zM333.9 251.7L334.85 253H332.95zM347.4 247.9L348.35 249.2H346.45zM364.9 242.4L365.85 243.7H363.95zM373 238.3L373.95 239.6H372.05zM385.8 234.7L386.75 236H384.85zM393.1 232.2L394.05 233.5H392.15zM400.9 231.2L401.85 232.5H399.95z" fill="#fff"/>
<path d="M349.3 279.2h14.4" stroke="#0000ff" stroke-width="1.3"/>
<text x="366.6" y="282.1" font-size="8.15">n by coupling model</text>
<path d="M349.3 288.8h14.4" stroke="#000" stroke-width="1.3"/>
<path d="M353.9 287.5h5.2L356.5 292.2z" fill="#000"/>
<text x="366.6" y="291.7" font-size="8.15">p by coupling model</text>
<path d="M356.5 294.1L360.4 301.1H352.6z" fill="#ff0000"/>
<path d="M356.5 298L357.45 299.3H355.55z" fill="#fff"/>
<text x="366.6" y="301.3" font-size="8.15">n by LOPP</text>
<polyline points="524.3,250.3 663.6,221.7" fill="none" stroke="#0000ff" stroke-width="1.2" stroke-linejoin="round"/>
<path d="M526.28 321.03L530.62 318.47M537.95 313.25L541.45 311.45M545.49 309.24L549.21 307.06M552.78 304.23L556.62 300.17M560.24 297.43L567.56 293.57M571.59 291.35L574.91 289.45M578.97 287.3L587.23 283.3M591.28 281.13L598.32 276.97M602.23 274.55L607.17 271.35M610.99 268.8L611.71 268.3M615.25 265.39L616.05 264.61M619.38 261.43L620.42 260.47M623.88 257.44L626.52 255.26M637.03 247.22L638.07 246.68M641.8 244.05L642.9 243.05M646.54 240.26L647.36 239.74M651.21 237.22L653.49 235.68M660.84 231.06L661.66 230.54" fill="none" stroke="#000" stroke-width="1.25"/>
<path d="M521.8 320.4h5L524.3 325.1zM530.1 315.5h5L532.6 320.2zM533.4 312.5h5L535.9 317.2zM541 308.6h5L543.5 313.3zM548.7 304.1h5L551.2 308.8zM555.7 296.7h5L558.2 301.4zM567.1 290.7h5L569.6 295.4zM574.4 286.5h5L576.9 291.2zM586.8 280.5h5L589.3 285.2zM597.8 274h5L600.3 278.7zM606.6 268.3h5L609.1 273zM611.1 265.2h5L613.6 269.9zM615.2 261.2h5L617.7 265.9zM619.6 257.1h5L622.1 261.8zM625.8 252h5L628.3 256.7zM629.8 249.5h5L632.3 254.2zM632.5 246.5h5L635 251.2zM637.6 243.8h5L640.1 248.5zM642.1 239.7h5L644.6 244.4zM646.8 236.7h5L649.3 241.4zM652.9 232.6h5L655.4 237.3zM656.4 230.5h5L658.9 235.2zM661.1 227.5h5L663.6 232.2z" fill="#000"/>
<path d="M600.9 242.7L604.8 249.7H597zM608.5 239.1L612.4 246.1H604.6zM617.7 234.6L621.6 241.6H613.8zM626.4 229.9L630.3 236.9H622.5zM635 226.4L638.9 233.4H631.1zM640.1 224.4L644 231.4H636.2zM645.2 221.7L649.1 228.7H641.3zM649.3 219.7L653.2 226.7H645.4zM654 217.8L657.9 224.8H650.1z" fill="#ff0000"/>
<path d="M600.9 246.6L601.85 247.9H599.95zM608.5 243L609.45 244.3H607.55zM617.7 238.5L618.65 239.8H616.75zM626.4 233.8L627.35 235.1H625.45zM635 230.3L635.95 231.6H634.05zM640.1 228.3L641.05 229.6H639.15zM645.2 225.6L646.15 226.9H644.25zM649.3 223.6L650.25 224.9H648.35zM654 221.7L654.95 223H653.05z" fill="#fff"/>
<path d="M584.8 299h14.4" stroke="#0000ff" stroke-width="1.3"/>
<text x="602.1" y="301.9" font-size="8.15">n by coupling model</text>
<path d="M584.8 308.7h14.4" stroke="#000" stroke-width="1.3"/>
<path d="M589.4 307.4h5.2L592 312.1z" fill="#000"/>
<text x="602.1" y="311.6" font-size="8.15">p by coupling model</text>
<path d="M592 314.1L595.9 321.1H588.1z" fill="#ff0000"/>
<path d="M592 318L592.95 319.3H591.05z" fill="#fff"/>
<text x="602.1" y="321.3" font-size="8.15">n by LOPP</text>
</svg></body></html>
